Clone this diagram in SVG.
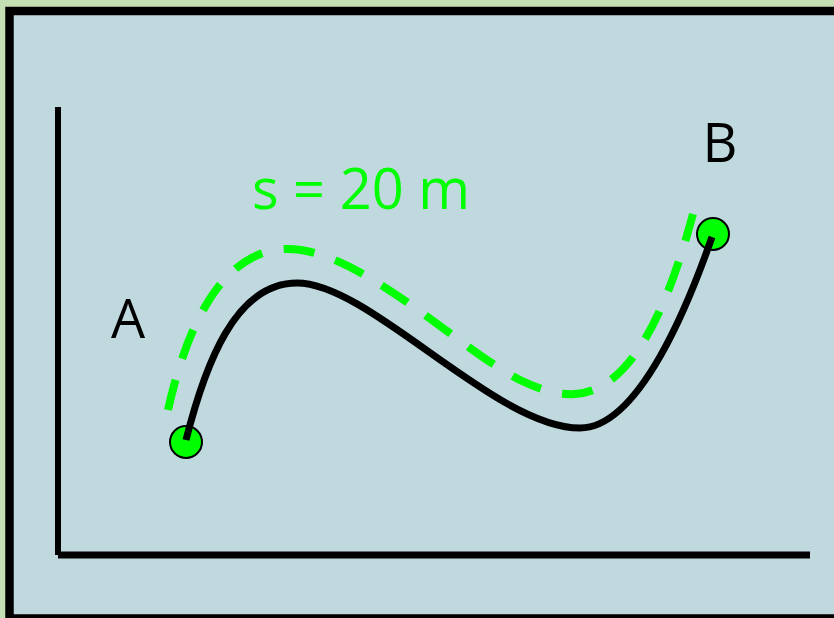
<svg xmlns="http://www.w3.org/2000/svg" width="834" height="618" viewBox="0 0 834 618">
<style>
.lbl{font-family:"Open Sans","Liberation Sans",sans-serif;}
.dot{fill:#00FF00;stroke:#000;stroke-width:2}
</style>
<rect x="0" y="0" width="834" height="618" fill="#C5DFB4"/>
<rect x="9.5" y="11" width="840" height="607.5" fill="#C0D9DE" stroke="#000" stroke-width="8.5"/>
<g id="axes" stroke="#000" fill="none">
<line x1="58" y1="107" x2="58" y2="555" stroke-width="6"/>
<line x1="58" y1="555" x2="810" y2="555" stroke-width="7"/>
</g>
<g id="A"><circle class="dot" cx="186" cy="442" r="16"/><text class="lbl" x="128" y="338" font-size="54" text-anchor="middle">A</text></g>
<g id="B"><circle class="dot" cx="713" cy="234" r="16"/><text class="lbl" x="720" y="162" font-size="54" text-anchor="middle">B</text></g>
<g id="connectors" fill="none">
<path d="M168,410 C188,320 225,249 288,249 C360,249 460,350 520,380 C545,392 560,395 575,394 C640,390 675,280 693,214" stroke="#00FF00" stroke-width="8" stroke-dasharray="31,22"/>
<path d="M186,440 C205,365 235,283 297,283 C370,283 495,428 580,428 C640,428 690,300 712,237" stroke="#000" stroke-width="7"/>
</g>
<g id="label"><text class="lbl" x="361" y="209" font-size="56" text-anchor="middle" fill="#00FF00">s = 20 m</text></g>
</svg>
